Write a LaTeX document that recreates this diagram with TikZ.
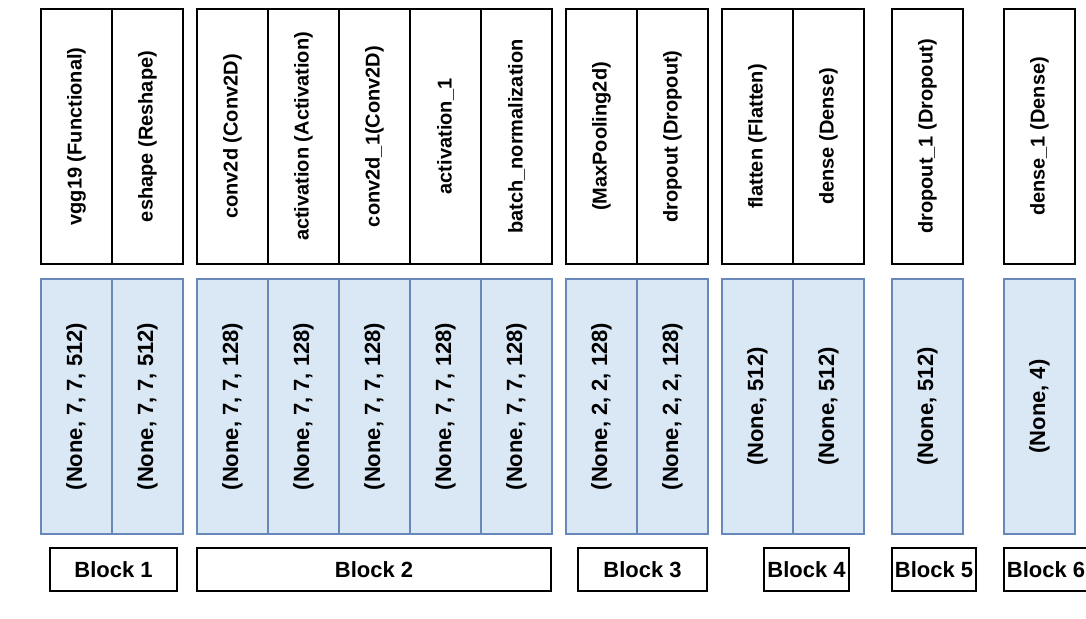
\documentclass[tikz,border=0pt]{standalone}
\usepackage{fontspec}
\setmainfont{Liberation Sans}
\usepackage{graphicx}
\definecolor{bluefill}{RGB}{218,232,245}
\definecolor{bluedraw}{RGB}{104,136,186}
\tikzset{
  topcell/.style={draw=black, line width=1.3pt, minimum width=71pt, minimum height=255pt, inner sep=0pt, font=\fontsize{20}{24}\selectfont\bfseries},
  botcell/.style={draw=bluedraw, fill=bluefill, line width=1.1pt, minimum width=71pt, minimum height=255pt, inner sep=0pt, font=\fontsize{22}{26}\selectfont\bfseries},
  blockbox/.style={draw=black, line width=1.3pt, minimum height=43pt, inner sep=0pt, font=\fontsize{22}{26}\selectfont\bfseries}
}
\begin{document}
\begin{tikzpicture}[x=1pt,y=-1pt]
\useasboundingbox (0,0) rectangle (1086,618);
\begin{scope}
\clip (0,0) rectangle (1086,618);
% top layer-name cells
\node[topcell] (t1)  at (76.5,136.5)  {\rotatebox{90}{vgg19 (Functional)}};
\node[topcell] (t2)  at (147.5,136.5) {\rotatebox{90}{eshape (Reshape)}};
\node[topcell] (t3)  at (232.5,136.5) {\rotatebox{90}{conv2d (Conv2D)}};
\node[topcell] (t4)  at (303.5,136.5) {\rotatebox{90}{activation (Activation)}};
\node[topcell] (t5)  at (374.5,136.5) {\rotatebox{90}{conv2d\_1(Conv2D)}};
\node[topcell] (t6)  at (445.5,136.5) {\rotatebox{90}{activation\_1}};
\node[topcell] (t7)  at (516.5,136.5) {\rotatebox{90}{batch\_normalization}};
\node[topcell] (t8)  at (601.5,136.5) {\rotatebox{90}{(MaxPooling2d)}};
\node[topcell] (t9)  at (672.5,136.5) {\rotatebox{90}{dropout (Dropout)}};
\node[topcell] (t10) at (757.5,136.5) {\rotatebox{90}{flatten (Flatten)}};
\node[topcell] (t11) at (828.5,136.5) {\rotatebox{90}{dense (Dense)}};
\node[topcell] (t12) at (927.5,136.5) {\rotatebox{90}{dropout\_1 (Dropout)}};
\node[topcell] (t13) at (1039.5,136.5) {\rotatebox{90}{dense\_1 (Dense)}};
% output-shape cells
\node[botcell] (b1)  at (76.5,406.5)  {\rotatebox{90}{(None, 7, 7, 512)}};
\node[botcell] (b2)  at (147.5,406.5) {\rotatebox{90}{(None, 7, 7, 512)}};
\node[botcell] (b3)  at (232.5,406.5) {\rotatebox{90}{(None, 7, 7, 128)}};
\node[botcell] (b4)  at (303.5,406.5) {\rotatebox{90}{(None, 7, 7, 128)}};
\node[botcell] (b5)  at (374.5,406.5) {\rotatebox{90}{(None, 7, 7, 128)}};
\node[botcell] (b6)  at (445.5,406.5) {\rotatebox{90}{(None, 7, 7, 128)}};
\node[botcell] (b7)  at (516.5,406.5) {\rotatebox{90}{(None, 7, 7, 128)}};
\node[botcell] (b8)  at (601.5,406.5) {\rotatebox{90}{(None, 2, 2, 128)}};
\node[botcell] (b9)  at (672.5,406.5) {\rotatebox{90}{(None, 2, 2, 128)}};
\node[botcell] (b10) at (757.5,406.5) {\rotatebox{90}{(None, 512)}};
\node[botcell] (b11) at (828.5,406.5) {\rotatebox{90}{(None, 512)}};
\node[botcell] (b12) at (927.5,406.5) {\rotatebox{90}{(None, 512)}};
\node[botcell] (b13) at (1039.5,406.5) {\rotatebox{90}{(None, 4)}};
% block labels
\node[blockbox, minimum width=127pt] (blk1) at (113.5,569.5) {Block 1};
\node[blockbox, minimum width=354pt] (blk2) at (374,569.5) {Block 2};
\node[blockbox, minimum width=129pt] (blk3) at (642.5,569.5) {Block 3};
\node[blockbox, minimum width=85pt] (blk4) at (806.5,569.5) {Block 4};
\node[blockbox, minimum width=84pt] (blk5) at (934,569.5) {Block 5};
\node[blockbox, minimum width=84pt] (blk6) at (1046,569.5) {Block 6};
\end{scope}
\end{tikzpicture}
\end{document}
